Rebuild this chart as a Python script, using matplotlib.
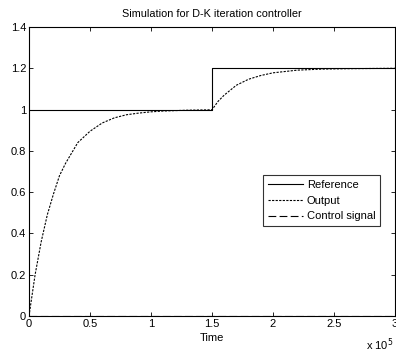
import numpy as np
import matplotlib
matplotlib.use('Agg')
import matplotlib.pyplot as plt
from matplotlib.ticker import FormatStrFormatter

# time in units of 1e5
t_ref = [0.0, 1.5, 1.5, 3.0]
y_ref = [1.0, 1.0, 1.2, 1.2]

t_out = [0.0, 0.05, 0.1, 0.15, 0.2, 0.25, 0.3, 0.4, 0.5, 0.6, 0.7, 0.8, 0.9,
         1.0, 1.1, 1.2, 1.3, 1.4, 1.5, 1.55, 1.6, 1.7, 1.8, 1.9, 2.0, 2.2,
         2.4, 2.6, 2.8, 3.0]
y_out = [0.0, 0.20, 0.36, 0.49, 0.59, 0.68, 0.74, 0.84, 0.895, 0.935, 0.96,
         0.975, 0.983, 0.989, 0.993, 0.995, 0.997, 0.998, 0.999, 1.04, 1.07,
         1.118, 1.147, 1.165, 1.178, 1.191, 1.196, 1.198, 1.199, 1.2]

t_ctl = [0.0, 3.0]
y_ctl = [0.002, 0.002]

plt.rcParams['font.family'] = ['Liberation Sans', 'DejaVu Sans']
plt.rcParams['font.size'] = 8

fig = plt.figure(figsize=(3.96, 3.55), dpi=100)
ax = fig.add_axes([29 / 396, 39 / 355, 366 / 396, 289 / 355])

ax.plot(t_ref, y_ref, color='black', lw=0.8, label='Reference')
ax.plot(t_out, y_out, color='black', lw=0.8, dashes=(2, 1.2), label='Output')
ax.plot(t_ctl, y_ctl, color='black', lw=0.8, dashes=(7, 3), label='Control signal')

ax.set_xlim(0, 3)
ax.set_ylim(0, 1.4)
ax.set_xticks(np.arange(0, 3.01, 0.5))
ax.set_yticks(np.arange(0, 1.41, 0.2))
ax.xaxis.set_major_formatter(FormatStrFormatter('%g'))
ax.yaxis.set_major_formatter(FormatStrFormatter('%g'))
ax.tick_params(direction='in', top=True, right=True, length=3, width=0.6,
               labelsize=8, pad=2)
for s in ax.spines.values():
    s.set_linewidth(0.8)

ax.set_title('Simulation for D-K iteration controller', fontsize=7.8, pad=7)
ax.set_xlabel('Time', fontsize=8, labelpad=3)
fig.text(366 / 396, 2 / 355, 'x 10$^5$', fontsize=8, ha='left', va='bottom')

leg = ax.legend(loc='lower right', bbox_to_anchor=(0.96, 0.31), fontsize=8,
                frameon=True, fancybox=False, edgecolor='black',
                handlelength=3.2, handletextpad=0.3, borderpad=0.45,
                labelspacing=0.5, borderaxespad=0)
leg.get_frame().set_linewidth(0.8)

fig.savefig('out.png', dpi=100)
